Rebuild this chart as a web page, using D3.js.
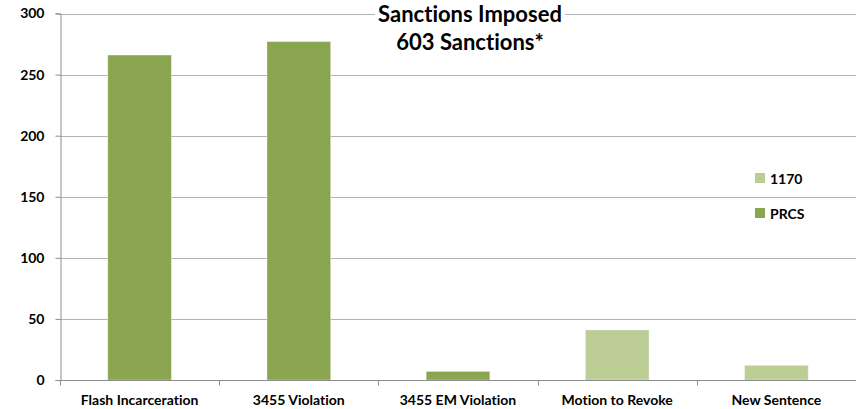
<!DOCTYPE html>
<html>
<head>
<meta charset="utf-8">
<script src="https://cdn.jsdelivr.net/npm/d3@7"></script>
<style>
  html, body { margin: 0; padding: 0; background: #fff; }
  svg { display: block; font-family: Lato, "Open Sans", sans-serif; font-variant-ligatures: none; }
</style>
</head>
<body>
<svg id="chart" width="856" height="409"></svg>
<script>
// Sanction counts by type, split by supervising body
const categories = ["Flash Incarceration", "3455 Violation", "3455 EM Violation", "Motion to Revoke", "New Sentence"];
const prcsValues = [266, 277, 7, 0, 0];
const c1170Values = [0, 0, 0, 41, 12];
const yTicks = [0, 50, 100, 150, 200, 250, 300];
const seriesNames = ["1170", "PRCS"];
const titleLines = ["Sanctions Imposed", "603 Sanctions*"];

const colors = { "PRCS": "#8aa550", "1170": "#bccd96" };

const svg = d3.select("#chart");
const margin = { left: 60, right: 0, top: 13.5, bottom: 29 };
const width = 856, height = 409;

const x = d3.scaleBand()
  .domain(categories)
  .range([margin.left, width - margin.right])
  .paddingInner(0.6)
  .paddingOuter(0.3);

const y = d3.scaleLinear()
  .domain([0, 300])
  .range([height - margin.bottom, margin.top]);

// Horizontal gridlines
svg.append("g")
  .selectAll("line")
  .data(yTicks.filter(d => d > 0))
  .join("line")
  .attr("x1", margin.left)
  .attr("x2", width - margin.right)
  .attr("y1", d => Math.round(y(d)) + 0.5)
  .attr("y2", d => Math.round(y(d)) + 0.5)
  .attr("stroke", "#b4b4b4")
  .attr("stroke-width", 1);

// Stacked bars
const rows = categories.map((c, i) => ({ cat: c, "PRCS": prcsValues[i], "1170": c1170Values[i] }));
const stack = d3.stack().keys(["PRCS", "1170"])(rows);

svg.append("g")
  .selectAll("g")
  .data(stack)
  .join("g")
  .attr("fill", d => colors[d.key])
  .selectAll("rect")
  .data(d => d.filter(s => s[1] - s[0] > 0))
  .join("rect")
  .attr("x", d => x(d.data.cat))
  .attr("width", x.bandwidth())
  .attr("y", d => y(d[1]))
  .attr("height", d => y(d[0]) - y(d[1]))
  .attr("stroke", "rgba(255,255,255,0.35)")
  .attr("stroke-width", 1);

// Y axis
const yAxis = d3.axisLeft(y).tickValues(yTicks).tickSize(5).tickPadding(11);
const gy = svg.append("g")
  .attr("transform", `translate(${margin.left + 0.5},0)`)
  .call(yAxis);
gy.select(".domain").attr("stroke", "#8c8c8c");
gy.selectAll(".tick line").attr("stroke", "#8c8c8c");
gy.selectAll(".tick text")
  .attr("font-family", "Lato, sans-serif")
  .attr("font-weight", "bold")
  .attr("font-size", 14)
  .attr("fill", "#000");

// X axis baseline with category boundary ticks
const gx = svg.append("g");
const baseY = Math.round(y(0)) + 0.5;
gx.append("line")
  .attr("x1", margin.left)
  .attr("x2", width - margin.right)
  .attr("y1", baseY)
  .attr("y2", baseY)
  .attr("stroke", "#8c8c8c");
const bounds = d3.range(categories.length + 1).map(i => margin.left + i * (width - margin.right - margin.left) / categories.length);
gx.selectAll("line.tk")
  .data(bounds)
  .join("line")
  .attr("class", "tk")
  .attr("x1", d => Math.round(d) + 0.5)
  .attr("x2", d => Math.round(d) + 0.5)
  .attr("y1", baseY)
  .attr("y2", baseY + 5)
  .attr("stroke", "#8c8c8c");
gx.selectAll("text")
  .data(categories)
  .join("text")
  .attr("x", d => x(d) + x.bandwidth() / 2)
  .attr("y", 405)
  .attr("text-anchor", "middle")
  .attr("font-weight", "bold")
  .attr("font-size", 14)
  .attr("fill", "#000")
  .text(d => d);

// Title with white backing over the top gridline
const title = svg.append("g");
title.append("rect")
  .attr("x", 375)
  .attr("y", 4)
  .attr("width", 190)
  .attr("height", 54)
  .attr("fill", "#fff");
title.selectAll("text")
  .data(titleLines)
  .join("text")
  .attr("x", 470)
  .attr("y", (d, i) => 22 + i * 28)
  .attr("text-anchor", "middle")
  .attr("font-weight", "bold")
  .attr("font-size", 22)
  .attr("fill", "#000")
  .text(d => d);

// Legend
const legend = svg.append("g");
const legItems = legend.selectAll("g")
  .data(seriesNames)
  .join("g")
  .attr("transform", (d, i) => `translate(755, ${173 + i * 35})`);
legItems.append("rect")
  .attr("width", 10)
  .attr("height", 10)
  .attr("fill", d => colors[d]);
legItems.append("text")
  .attr("x", 15)
  .attr("y", 10.5)
  .attr("font-weight", "bold")
  .attr("font-size", 14)
  .attr("fill", "#000")
  .text(d => d);
</script>
</body>
</html>
